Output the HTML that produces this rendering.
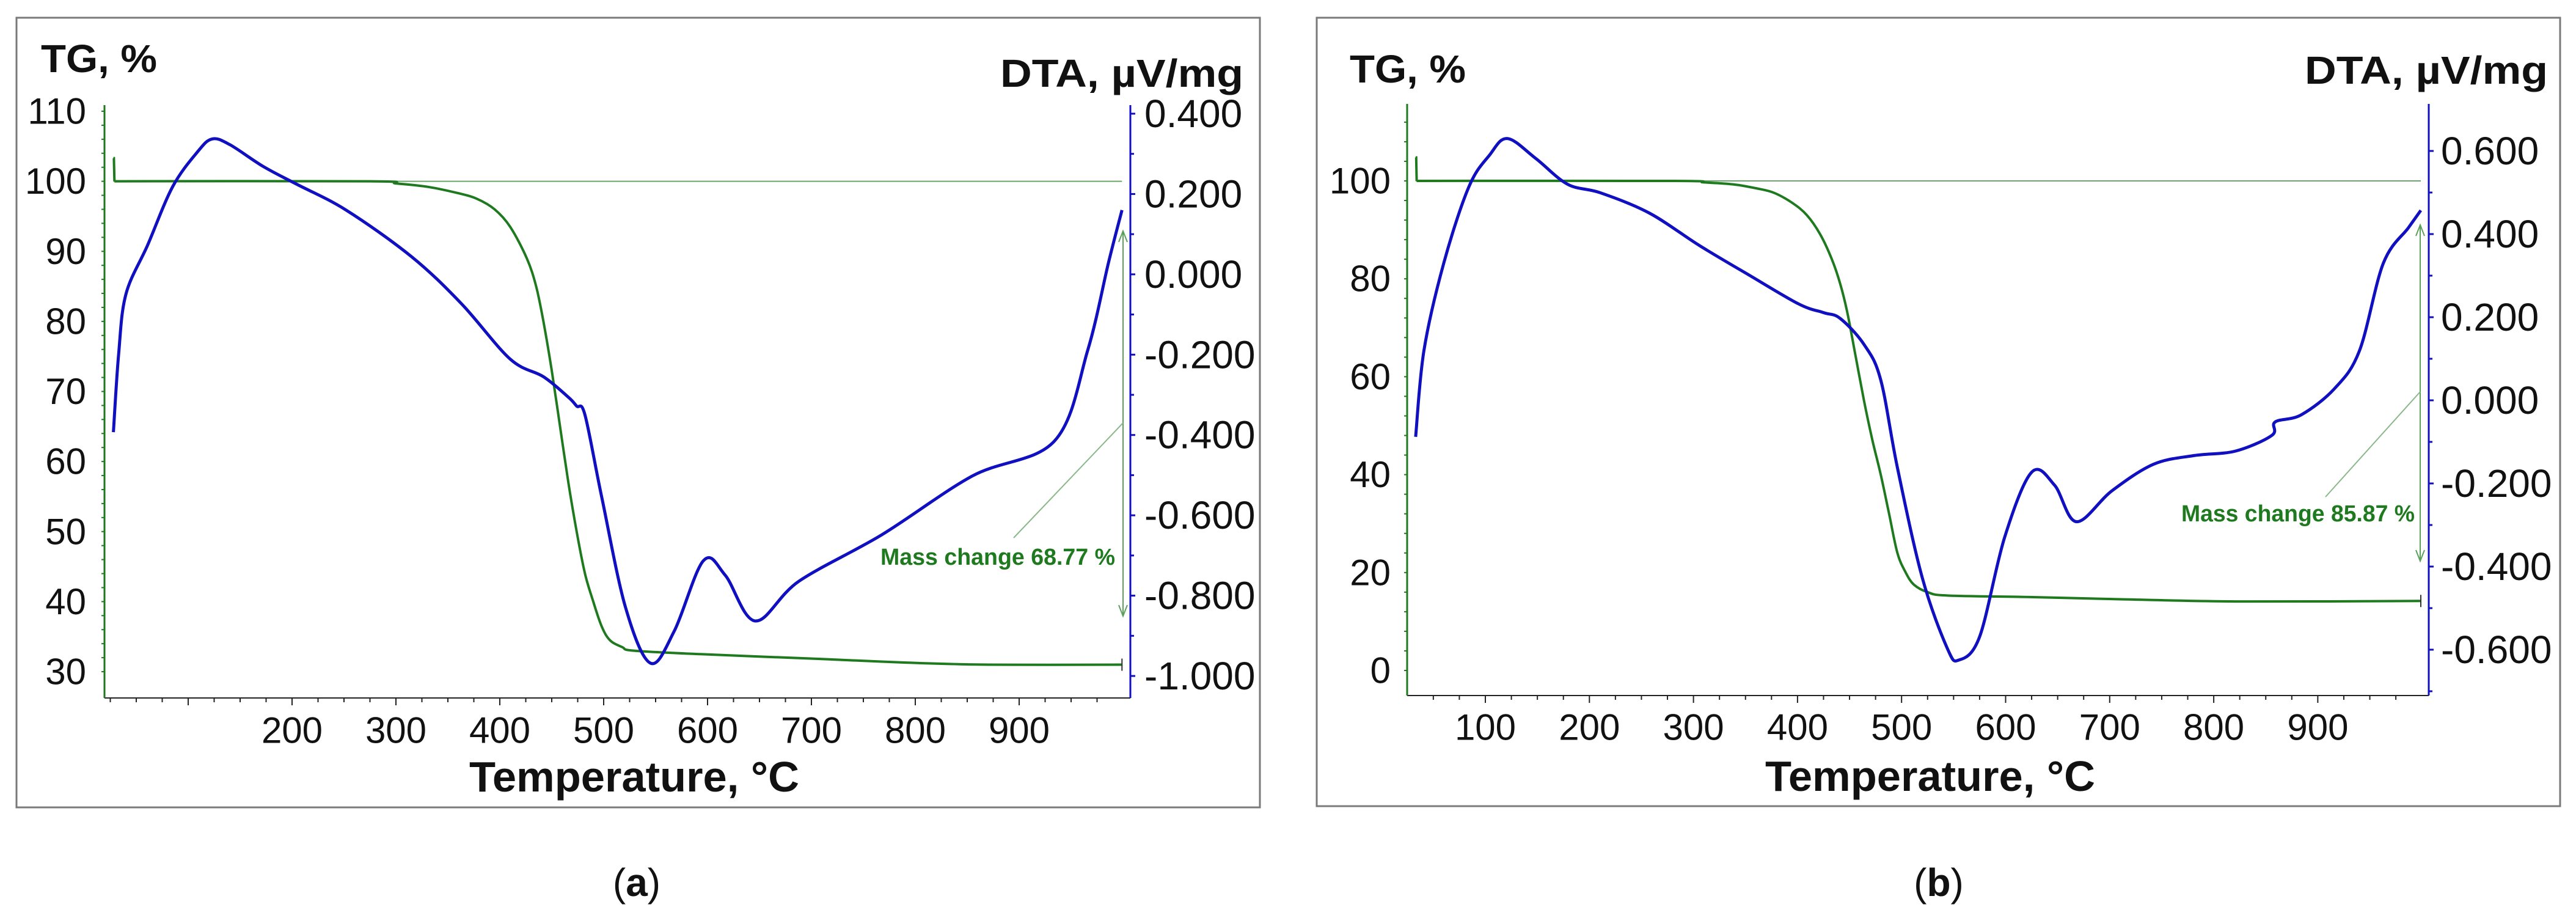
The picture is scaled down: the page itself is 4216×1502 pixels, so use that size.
<!DOCTYPE html>
<html><head><meta charset="utf-8"><style>
html,body{margin:0;padding:0;background:#fff;}
svg{display:block;}
text{font-family:"Liberation Sans",sans-serif;}
</style></head><body>
<svg id="fig" width="4216" height="1502" viewBox="0 0 4216 1502" xmlns="http://www.w3.org/2000/svg"></svg>
<script>
// ---- Panel (a) data ----
const tempA = [28,33,40,61,85,109,123,140,172,204,252,315,363,410,442,466,474,482,498,521,545,568,596,617,646,688,768,855,934,966,986,999];
const dtaA = [-0.393,-0.2,-0.05,0.073,0.218,0.305,0.337,0.323,0.269,0.225,0.16,0.044,-0.073,-0.211,-0.255,-0.306,-0.328,-0.35,-0.553,-0.829,-0.968,-0.888,-0.713,-0.749,-0.863,-0.764,-0.648,-0.502,-0.415,-0.189,0.029,0.16];
const tgTempA = [28,28.5,29,275,300,331,360,378,395,410,426,435,442,450,458,466,474,482,490,498,506,518,529,593,712,791,871,999];
const tgA = [103.3,103.3,100,100,99.7,99.2,98.3,97.5,96,93.5,89,85,80,73,65,57,50,44,40,36.5,34.5,33.5,33,32.5,31.8,31.3,31,31];
const tgTicksA = [30,40,50,60,70,80,90,100,110];
const dtaTicksA = [0.4,0.2,0,-0.2,-0.4,-0.6,-0.8,-1.0];
const xTicksA = [200,300,400,500,600,700,800,900];
const massLabelA = "Mass change 68.77 %";

// ---- Panel (b) data ----
const tempB = [33,41,60,84,104,121,148,179,211,258,306,353,401,425,441,464,480,496,520,544,555,575,599,625,647,668,702,742,781,821,856,859,884,916,940,963,987,999];
const dtaB = [-0.088,0.12,0.33,0.513,0.59,0.63,0.583,0.52,0.499,0.45,0.372,0.302,0.232,0.211,0.197,0.134,0.049,-0.162,-0.428,-0.597,-0.625,-0.569,-0.33,-0.173,-0.204,-0.292,-0.218,-0.154,-0.133,-0.122,-0.084,-0.052,-0.035,0.028,0.119,0.33,0.415,0.457];
const tgTempB = [33,33.5,34,282,310,338,360,377,395,409,422,433,441,448,456,464,472,480,488,496,504,512,525,544,623,702,821,999];
const tgB = [104.8,104.8,100,100,99.7,99.3,98.5,97.6,95.5,93,89,84,79,73,64,55,47,40,32,24,20,17.5,16,15.3,15,14.6,14.1,14.2];
const tgTicksB = [0,20,40,60,80,100];
const dtaTicksB = [0.6,0.4,0.2,0,-0.2,-0.4,-0.6];
const xTicksB = [100,200,300,400,500,600,700,800,900];
const massLabelB = "Mass change 85.87 %";

const NS = "http://www.w3.org/2000/svg";
const svg = document.getElementById('fig');
function mk(tag, attrs, parent, txt){
  const e = document.createElementNS(NS, tag);
  for (const k in attrs) e.setAttribute(k, attrs[k]);
  if (txt !== undefined) e.textContent = txt;
  (parent || svg).appendChild(e);
  return e;
}
const GREEN = "#1f7a1f", BLUE = "#1010c0";

function smoothPath(P){
  let d = 'M' + P[0][0].toFixed(1) + ',' + P[0][1].toFixed(1);
  for (let i = 0; i < P.length-1; i++){
    const p0 = P[Math.max(0,i-1)], p1 = P[i], p2 = P[i+1], p3 = P[Math.min(P.length-1,i+2)];
    const c1 = [p1[0]+(p2[0]-p0[0])/6, p1[1]+(p2[1]-p0[1])/6];
    const c2 = [p2[0]-(p3[0]-p1[0])/6, p2[1]-(p3[1]-p1[1])/6];
    d += ` C${c1[0].toFixed(1)},${c1[1].toFixed(1)} ${c2[0].toFixed(1)},${c2[1].toFixed(1)} ${p2[0].toFixed(1)},${p2[1].toFixed(1)}`;
  }
  return d;
}

function panel(cfg){
  const g = mk('g', {});
  
  
  const xs = t => cfg.x0 + (t - cfg.tRef0) * cfg.xPer100 / 100;
  const ys = v => cfg.tgY0 + (v - cfg.tgV0) * (cfg.tgY1 - cfg.tgY0) / (cfg.tgV1 - cfg.tgV0);
  const yd = v => cfg.dY0 + (v - cfg.dV0) * (cfg.dY1 - cfg.dY0) / (cfg.dV1 - cfg.dV0);

  const fr = mk('rect', {x:cfg.fx, y:cfg.fy, width:cfg.fw, height:cfg.fh, fill:'none', stroke:'#7a7a7a', 'stroke-width':3}, g);
  
  

  const xa = mk('line', {x1:cfg.axL, y1:cfg.axB, x2:cfg.axR, y2:cfg.axB, stroke:'#222', 'stroke-width':2}, g);
  
  
  const la = mk('line', {x1:cfg.axL, y1:cfg.axT, x2:cfg.axL, y2:cfg.axB, stroke:GREEN, 'stroke-width':3}, g);
  
  
  const ra = mk('line', {x1:cfg.axR, y1:cfg.axT, x2:cfg.axR, y2:cfg.axB, stroke:BLUE, 'stroke-width':3}, g);
  
  

  for (let t = 25; t < 1000; t += 25){
    const x = xs(t);
    if (x < cfg.axL + 2 || x > cfg.axR - 2) continue;
    const major = t % 100 === 0;
    mk('line', {x1:x, y1:cfg.axB, x2:x, y2:cfg.axB + (major?12:7), stroke:'#222', 'stroke-width':2}, g);
  }
  cfg.xTicks.forEach(t => {
    const tl = mk('text', {x:xs(t), y:cfg.xLabY, 'font-size':60, 'text-anchor':'middle', 'dominant-baseline':'central', fill:'#111'}, g, String(t));
    
    
  });
  const tgT = cfg.tgTicks;
  const tgStep = tgT[1]-tgT[0];
  for (let v = tgT[0]; v <= tgT[tgT.length-1] + tgStep*0.6; v += tgStep/5){
    const y = ys(v);
    if (y < cfg.axT || y > cfg.axB) continue;
    mk('line', {x1:cfg.axL-5, y1:y, x2:cfg.axL, y2:y, stroke:GREEN, 'stroke-width':2}, g);
  }
  tgT.forEach(v => {
    const tl = mk('text', {x:cfg.tgLabX, y:ys(v), 'font-size':60, 'text-anchor':'end', 'dominant-baseline':'central', fill:'#111'}, g, String(v));
    
    
  });
  cfg.dtaTicks.forEach(v => {
    const y = yd(v);
    mk('line', {x1:cfg.axR, y1:y, x2:cfg.axR+8, y2:y, stroke:BLUE, 'stroke-width':3}, g);
    const y2 = yd(v - 0.1);
    if (y2 < cfg.axB) mk('line', {x1:cfg.axR, y1:y2, x2:cfg.axR+6, y2:y2, stroke:BLUE, 'stroke-width':3}, g);
    const tl = mk('text', {x:cfg.dLabX, y:y, 'font-size':64, 'text-anchor':'start', 'dominant-baseline':'central', fill:'#111'}, g, (v<0?'-':'')+Math.abs(v).toFixed(3));
    
    
  });

  const ref = mk('line', {x1:xs(cfg.tgT[0]), y1:ys(100), x2:xs(999), y2:ys(100), stroke:'#6aa86a', 'stroke-width':2}, g);
  
  

  // TG curve: initial spike straight, rest smooth
  const TP = cfg.tgT.map((t,i) => [xs(t), ys(cfg.tg[i])]);
  const sp = mk('polyline', {points:TP.slice(0,3).map(p=>p[0].toFixed(1)+','+p[1].toFixed(1)).join(' '), fill:'none', stroke:GREEN, 'stroke-width':4}, g);
  
  
  const tgl = mk('path', {d:smoothPath(TP.slice(2)), fill:'none', stroke:GREEN, 'stroke-width':4, 'stroke-linejoin':'round'}, g);
  
  
  // end marker
  const ex = xs(999), ey = ys(cfg.tg[cfg.tg.length-1]);
  mk('line', {x1:ex, y1:ey-10, x2:ex, y2:ey+10, stroke:'#333', 'stroke-width':2}, g);

  const P = cfg.temp.map((t,i) => [xs(t), yd(cfg.dta[i])]);
  const dl = mk('path', {d:smoothPath(P), fill:'none', stroke:BLUE, 'stroke-width':5, 'stroke-linejoin':'round'}, g);
  
  

  const ax = cfg.arrowX;
  const ar = mk('line', {x1:ax, y1:cfg.arrowTop, x2:ax, y2:cfg.arrowBot, stroke:'#5aa05a', 'stroke-width':2}, g);
  
  
  mk('polyline', {points:`${ax-7},${cfg.arrowTop+18} ${ax},${cfg.arrowTop} ${ax+7},${cfg.arrowTop+18}`, fill:'none', stroke:'#5aa05a', 'stroke-width':2}, g);
  mk('polyline', {points:`${ax-7},${cfg.arrowBot-18} ${ax},${cfg.arrowBot} ${ax+7},${cfg.arrowBot-18}`, fill:'none', stroke:'#5aa05a', 'stroke-width':2}, g);
  mk('line', {x1:cfg.leadX1, y1:cfg.leadY1, x2:ax, y2:cfg.leadY2, stroke:'#8ab88a', 'stroke-width':2}, g);
  const mt = mk('text', {x:cfg.mTextX, y:cfg.mTextY, 'font-size':38, 'font-weight':'bold', fill:GREEN, 'dominant-baseline':'central', textLength:cfg.mTextW, lengthAdjust:'spacingAndGlyphs'}, g, cfg.massLabel);
  
  

  const t1 = mk('text', {x:cfg.tgTitleX, y:cfg.tgTitleY, 'font-size':64, 'font-weight':'bold', fill:'#111', 'dominant-baseline':'central', textLength:190, lengthAdjust:'spacingAndGlyphs'}, g, 'TG, %');
  
  
  const t2 = mk('text', {x:cfg.dTitleR, y:cfg.dTitleY, 'font-size':64, 'font-weight':'bold', fill:'#111', 'text-anchor':'end', 'dominant-baseline':'central', textLength:398, lengthAdjust:'spacingAndGlyphs'}, g, 'DTA, µV/mg');
  
  
  const t3 = mk('text', {x:cfg.tempX - 270, y:cfg.tempY, 'font-size':70, 'font-weight':'bold', fill:'#111', 'dominant-baseline':'central', textLength:540, lengthAdjust:'spacingAndGlyphs'}, g, 'Temperature, °C');
  
  
  const cap = mk('text', {x:cfg.capX, y:1444, 'font-size':64, 'text-anchor':'middle', 'dominant-baseline':'central', fill:'#111', 'font-family':'Liberation Serif, serif'}, g);
  
  
  mk('tspan', {}, cap, '(');
  mk('tspan', {'font-weight':'bold'}, cap, cfg.capLetter);
  mk('tspan', {}, cap, ')');
}

panel({name:'panel-a', fx:27, fy:29, fw:2035, fh:1292,
  axL:171, axR:1850, axT:172, axB:1142,
  x0:478, tRef0:200, xPer100:170,
  tgY0:182, tgV0:110, tgY1:1099, tgV1:30,
  dY0:186, dV0:0.4, dY1:1106, dV1:-1.0,
  xLabY:1195, tgLabX:141, dLabX:1873,
  tgTicks:tgTicksA, dtaTicks:dtaTicksA, xTicks:xTicksA,
  temp:tempA, dta:dtaA, tgT:tgTempA, tg:tgA,
  arrowX:1838, arrowTop:378, arrowBot:1008,
  leadX1:1659, leadY1:880, leadY2:692,
  mTextX:1441, mTextY:912, mTextW:384, massLabel:massLabelA,
  tgTitleX:67, tgTitleY:96, dTitleR:2035, dTitleY:120,
  tempX:1038, tempY:1271, capX:1042, capLetter:'a'});

panel({name:'panel-b', fx:2155, fy:29, fw:2035, fh:1290,
  axL:2303, axR:3975, axT:170, axB:1138,
  x0:2431, tRef0:100, xPer100:170.3,
  tgY0:296, tgV0:100, tgY1:1097, tgV1:0,
  dY0:247, dV0:0.6, dY1:1063, dV1:-0.6,
  xLabY:1190, tgLabX:2276, dLabX:3995,
  tgTicks:tgTicksB, dtaTicks:dtaTicksB, xTicks:xTicksB,
  temp:tempB, dta:dtaB, tgT:tgTempB, tg:tgB,
  arrowX:3961, arrowTop:368, arrowBot:918,
  leadX1:3806, leadY1:813, leadY2:641,
  mTextX:3570, mTextY:841, mTextW:382, massLabel:massLabelB,
  tgTitleX:2209, tgTitleY:113, dTitleR:4170, dTitleY:115,
  tempX:3159, tempY:1270, capX:3173, capLetter:'b'});
</script>
</body></html>
